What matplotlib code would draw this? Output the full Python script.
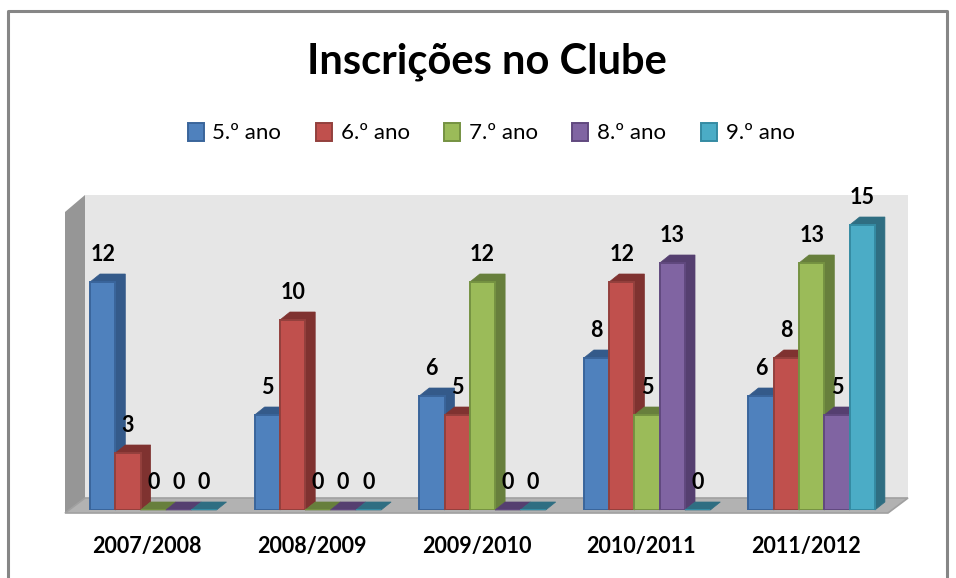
import matplotlib
matplotlib.use('Agg')
import matplotlib.pyplot as plt
from matplotlib.patches import Patch, Polygon

plt.rcParams['font.family'] = ['Lato', 'DejaVu Sans']

anos = ['2007/2008', '2008/2009', '2009/2010', '2010/2011', '2011/2012']
quinto = [12, 5, 6, 8, 6]
sexto = [3, 10, 5, 12, 8]
setimo = [0, 0, 12, 5, 13]
oitavo = [0, 0, 0, 13, 5]
nono = [0, 0, 0, 0, 15]

series = [quinto, sexto, setimo, oitavo, nono]
nomes = ['5.º ano', '6.º ano', '7.º ano', '8.º ano', '9.º ano']
frente = ['#4F81BD', '#C0504D', '#9BBB59', '#8064A2', '#4BACC6']
borda = ['#3A659B', '#93403D', '#759242', '#61497F', '#358BA3']
lado = ['#345A8A', '#7F3230', '#677F3C', '#553F70', '#2F6E82']

W, H = 956, 578
fig = plt.figure(figsize=(W / 100, H / 100), dpi=100)

# fundo em pixeis: moldura e paredes do grafico 3D
bg = fig.add_axes([0, 0, 1, 1])
bg.set_xlim(0, W)
bg.set_ylim(H, 0)
bg.axis('off')
bg.add_patch(Polygon([(85, 195), (908, 195), (908, 498), (85, 498)], fc='#E6E6E6', ec='none'))
bg.add_patch(Polygon([(65, 212), (85, 195), (85, 498), (65, 513)], fc='#969696', ec='none'))
bg.add_patch(Polygon([(65, 513), (85, 498), (908, 498), (888, 513)], fc='#B2B2B2', ec='#A0A0A0', lw=1.2))
bg.plot([8, 8, 947, 947], [578, 11, 11, 578], color='#868686', lw=2.2)

# eixo dos dados
esq, dir_, base, topo = 65, 888, 510, 212
ax = fig.add_axes([esq / W, 1 - base / H, (dir_ - esq) / W, (base - topo) / H])
ax.patch.set_alpha(0)
ax.set_xlim(-0.5, 4.5)
ax.set_ylim(0, (base - topo) / 19)
for s in ax.spines.values():
    s.set_visible(False)
ax.set_yticks([])
ax.set_xticks(range(len(anos)))
ax.set_xticklabels(anos, fontsize=15.5, fontweight='bold')
ax.tick_params(axis='x', length=0, pad=19)

larg = 0.1537
inicio = -0.348
dx = 10 / 164.6
dy = 8 / 19

z = 2
for i in range(len(anos)):
    for j, valores in enumerate(series):
        v = valores[i]
        x0 = i + inicio + j * larg
        x1 = x0 + larg
        ax.add_patch(Polygon([(x1, 0), (x1 + dx, dy), (x1 + dx, v + dy), (x0 + dx, v + dy),
                              (x0, v), (x1, v)], fc=lado[j], ec=lado[j], lw=0.5, zorder=z, clip_on=False))
        ax.bar(x0, v, larg, align='edge', color=frente[j], edgecolor=borda[j], linewidth=1.4, zorder=z + 0.5)
        ax.annotate(str(v), (x0 + larg / 2, v), xytext=(0, 20), textcoords='offset points',
                    ha='center', va='center', fontsize=15.5, fontweight='bold', zorder=100,
                    annotation_clip=False)
        z += 1

fig.text(487 / W, 1 - 62 / H, 'Inscrições no Clube', ha='center', va='center', fontsize=30, fontweight='bold')

handles = [Patch(fc=c, ec=b, lw=1.4) for c, b in zip(frente, borda)]
fig.legend(handles, nomes, ncol=5, frameon=False, loc='center', bbox_to_anchor=(491 / W, 1 - 133 / H),
           fontsize=16, handlelength=0.72, handleheight=0.9, handletextpad=0.4, columnspacing=1.55)

fig.savefig('out.png', dpi=100)
